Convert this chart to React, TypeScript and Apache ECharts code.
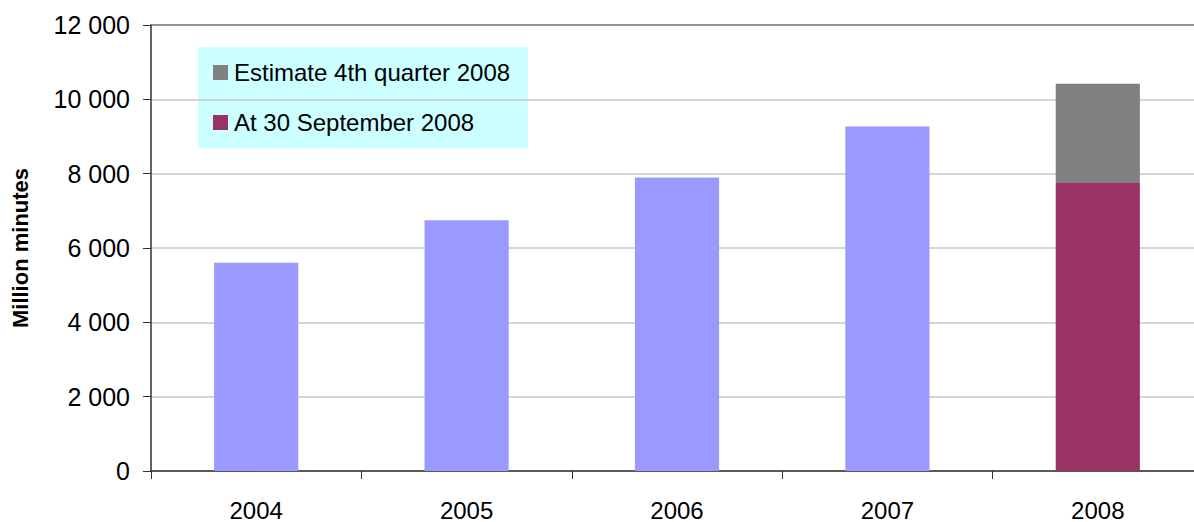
import React, { useEffect, useRef } from "react";
import * as echarts from "echarts";

const categories = ["2004", "2005", "2006", "2007", "2008"];
const annualValues = [5600, 6750, 7900, 9270, null];
const atSeptemberValues = [null, null, null, null, 7770];
const estimateQ4Values = [null, null, null, null, 2650];
const yAxisTitle = "Million minutes";
const legendNames = ["Estimate 4th quarter 2008", "At 30 September 2008"];

const FONT = "'Liberation Sans', Arial, sans-serif";

export default function App() {
  const ref = useRef<HTMLDivElement>(null);
  useEffect(() => {
    document.body.style.margin = "0";
    document.body.style.overflow = "hidden";
    document.documentElement.style.overflow = "hidden";
    const chart = echarts.init(ref.current!, null, { renderer: "svg" });
    chart.setOption({
      animation: false,
      backgroundColor: "#ffffff",
      textStyle: { fontFamily: FONT },
      grid: { left: 151, top: 25, width: 1052, height: 448, containLabel: false },
      graphic: [
        {
          type: "rect",
          left: 198,
          top: 47,
          z: 0,
          shape: { width: 330, height: 101 },
          style: { fill: "#ccffff" },
        },
      ],
      legend: {
        data: legendNames,
        orient: "vertical",
        left: 198,
        top: 47,
        padding: [13, 10, 12, 15],
        itemGap: 25,
        itemWidth: 15,
        itemHeight: 15,
        icon: "rect",
        z: 10,
        textStyle: { fontFamily: FONT, fontSize: 24, color: "#000", lineHeight: 25, padding: [0, 0, 0, 1] },
      },
      xAxis: {
        type: "category",
        data: categories,
        axisLine: { show: true, lineStyle: { color: "#303030", width: 1.5 } },
        axisTick: { show: true, length: 8, lineStyle: { color: "#303030" } },
        axisLabel: { fontFamily: FONT, fontSize: 24, color: "#000", margin: 27 },
      },
      yAxis: {
        type: "value",
        min: 0,
        max: 12000,
        interval: 2000,
        name: yAxisTitle,
        nameLocation: "middle",
        nameGap: 120,
        nameTextStyle: { fontFamily: FONT, fontSize: 22, fontWeight: "bold", color: "#000" },
        axisLine: { show: true, lineStyle: { color: "#303030", width: 1.5 } },
        axisTick: { show: true, length: 8, lineStyle: { color: "#303030" } },
        axisLabel: {
          fontFamily: FONT,
          fontSize: 25,
          color: "#000",
          margin: 21,
          formatter: (v: number) => {
            const s = String(v);
            return s.length > 3 ? s.slice(0, s.length - 3) + " " + s.slice(-3) : s;
          },
        },
        splitLine: {
          show: true,
          lineStyle: {
            color: ["#c8c8c8", "#c8c8c8", "#c8c8c8", "#c8c8c8", "#c8c8c8", "#c8c8c8", "#707070"],
            width: 1.5,
          },
        },
      },
      series: [
        {
          name: "Annual",
          type: "bar",
          stack: "total",
          barWidth: "40%",
          data: annualValues,
          itemStyle: { color: "#9999ff" },
        },
        {
          name: legendNames[1],
          type: "bar",
          stack: "total",
          barWidth: "40%",
          data: atSeptemberValues,
          itemStyle: { color: "#993366" },
        },
        {
          name: legendNames[0],
          type: "bar",
          stack: "total",
          barWidth: "40%",
          data: estimateQ4Values,
          itemStyle: { color: "#808080" },
        },
      ],
    });
    return () => chart.dispose();
  }, []);
  return (
    <div
      ref={ref}
      style={{ position: "absolute", left: 0, top: 0, width: 1212, height: 522 }}
    />
  );
}
